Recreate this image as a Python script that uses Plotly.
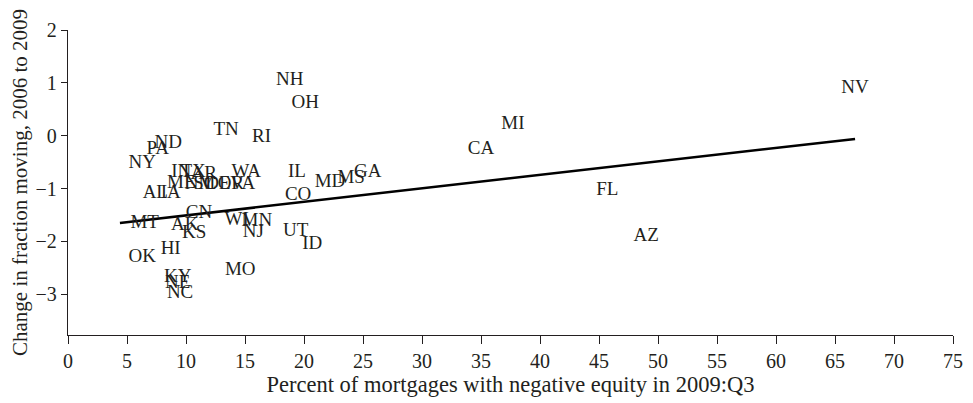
import plotly.graph_objects as go

# state labels and positions
states = ["NV", "MI", "CA", "FL", "AZ", "NH", "OH", "TN", "RI", "ND",
          "PA", "NY", "IL", "GA", "MS", "MD", "CO", "WA", "IN", "TX",
          "AR", "ME", "NM", "SC", "DE", "OR", "VA", "AL", "IA", "MT",
          "CN", "AK", "KS", "WI", "MN", "NJ", "UT", "ID", "HI", "OK",
          "MO", "KY", "NE", "NC"]
neg_equity = [66.7, 37.7, 35.0, 45.7, 49.0, 18.8, 20.1, 13.4, 16.4, 8.5,
              7.6, 6.3, 19.4, 25.4, 24.0, 22.2, 19.5, 15.1, 9.6, 10.6,
              11.5, 9.6, 11.2, 11.6, 12.7, 13.8, 14.8, 7.4, 8.7, 6.5,
              11.1, 9.9, 10.7, 14.3, 16.0, 15.7, 19.3, 20.7, 8.7, 6.3,
              14.6, 9.3, 9.3, 9.5]
move_change = [0.90, 0.22, -0.25, -1.04, -1.90, 1.05, 0.62, 0.11, -0.02, -0.15,
               -0.25, -0.52, -0.69, -0.69, -0.80, -0.88, -1.12, -0.69, -0.69, -0.69,
               -0.72, -0.89, -0.91, -0.91, -0.91, -0.91, -0.91, -1.08, -1.08, -1.65,
               -1.46, -1.69, -1.84, -1.59, -1.61, -1.82, -1.80, -2.05, -2.14, -2.30,
               -2.54, -2.67, -2.79, -2.98]

# fitted line end points
fit_x = [4.4, 66.7]
fit_y = [-1.65, -0.06]

font_name = "Liberation Serif"
ink = "#231f20"

fig = go.Figure()

fig.add_trace(go.Scatter(x=fit_x, y=fit_y, mode="lines",
                         line=dict(color="black", width=2.5),
                         showlegend=False, hoverinfo="skip"))

fig.add_trace(go.Scatter(x=neg_equity, y=move_change, mode="text",
                         text=states, textposition="middle center",
                         textfont=dict(family=font_name, size=19, color=ink),
                         showlegend=False))

# page body has an 8px margin, so the figure is a bit smaller than the window
fig.update_layout(
    width=965, height=395,
    margin=dict(l=60, r=20, t=22, b=68),
    plot_bgcolor="white", paper_bgcolor="white",
    font=dict(family=font_name, size=20, color=ink),
    xaxis=dict(range=[0, 75], tickvals=list(range(0, 80, 5)),
               showgrid=False, zeroline=False, automargin=False,
               showline=True, linecolor=ink, linewidth=1.3,
               ticks="outside", ticklen=8, tickcolor=ink, tickwidth=1.3,
               tickfont=dict(family=font_name, size=20),
               title=dict(text="Percent of mortgages with negative equity in 2009:Q3",
                          font=dict(family=font_name, size=22.5), standoff=4)),
    yaxis=dict(range=[-3.77, 2], tickvals=[-3, -2, -1, 0, 1, 2],
               ticktext=["\u22123", "\u22122", "\u22121", "0", "1", "2"],
               showgrid=False, zeroline=False, automargin=False,
               showline=True, linecolor=ink, linewidth=1.3,
               ticks="outside", ticklen=6, tickcolor=ink, tickwidth=1.3,
               tickfont=dict(family=font_name, size=20),
               title=dict(text="Change in fraction moving, 2006 to 2009",
                          font=dict(family=font_name, size=21), standoff=2)),
)

fig.write_html("out.html")
